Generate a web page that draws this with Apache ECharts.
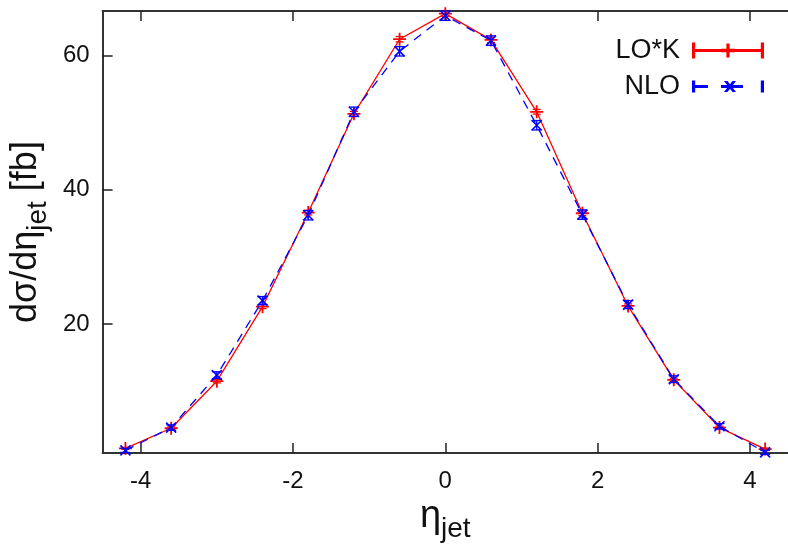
<!DOCTYPE html>
<html>
<head>
<meta charset="utf-8">
<script src="https://cdn.jsdelivr.net/npm/echarts@6.0.0/dist/echarts.min.js"></script>
<style>html,body{margin:0;padding:0;background:#fff}#c{width:788px;height:548px}</style>
</head>
<body>
<div id="c"></div>
<script>
const etaVals = [-4.2, -3.6, -3.0, -2.4, -1.8, -1.2, -0.6, 0, 0.6, 1.2, 1.8, 2.4, 3.0, 3.6, 4.2];
const lokVals = [1.5, 4.5, 11.5, 22.6, 36.6, 51.3, 62.4, 66.2, 62.3, 51.6, 36.5, 22.7, 11.7, 4.6, 1.4];
const lokErr  = [0.15, 0.2, 0.25, 0.3, 0.35, 0.35, 0.4, 0.4, 0.4, 0.35, 0.35, 0.3, 0.25, 0.2, 0.15];
const nloVals = [1.2, 4.6, 12.4, 23.5, 36.2, 51.6, 60.6, 65.9, 62.2, 49.6, 36.3, 22.9, 11.8, 4.8, 0.9];
const nloErr  = [0.3, 0.4, 0.5, 0.6, 0.7, 0.7, 0.7, 0.7, 0.7, 0.7, 0.7, 0.6, 0.5, 0.4, 0.3];
const xTicks = [-4, -2, 0, 2, 4];
const yTicks = [20, 40, 60];
const seriesNames = ['LO*K', 'NLO'];

const RED = '#ff0000', BLUE = '#0000ff';
const FONT = '"Liberation Sans", Arial, sans-serif';

function errBars(color, capHalf) {
  return function (params, api) {
    const x = api.value(0), y = api.value(1), e = api.value(2);
    const t = api.coord([x, y + e]), b = api.coord([x, y - e]);
    const st = { stroke: color, lineWidth: 1.3 };
    return { type: 'group', children: [
      { type: 'line', shape: { x1: t[0], y1: t[1], x2: b[0], y2: b[1] }, style: st },
      { type: 'line', shape: { x1: t[0] - capHalf, y1: t[1], x2: t[0] + capHalf, y2: t[1] }, style: st },
      { type: 'line', shape: { x1: b[0] - capHalf, y1: b[1], x2: b[0] + capHalf, y2: b[1] }, style: st }
    ]};
  };
}

const iconLok = 'path://M0,6.5H70V7.5H0Z M0,0H1.2V14H0Z M68.8,0H70V14H68.8Z M34.4,1H35.6V13H34.4Z M29,6.3H41V7.7H29Z';
const iconNlo = 'path://M0,2H1.2V12H0Z M0,6.5H14V7.5H0Z M29,6.5H49V7.5H29Z M68.8,2H70V12H68.8Z M33,2.5L34,2.5L41,11.5L40,11.5Z M40,2.5L41,2.5L34,11.5L33,11.5Z';

const axisLineStyle = { color: '#333', width: 2 };

const chart = echarts.init(document.getElementById('c'), null, { renderer: 'canvas' });
chart.setOption({
  backgroundColor: '#fff',
  animation: false,
  textStyle: { fontFamily: FONT },
  grid: { left: 101, top: 11, width: 690, height: 448, containLabel: false },
  legend: {
    orient: 'vertical', right: 19, top: 32, align: 'right',
    itemWidth: 70, itemHeight: 14, itemGap: 9, selectedMode: false,
    textStyle: { fontSize: 27, color: '#111', fontFamily: FONT, padding: [0, 8, 0, 0] },
    data: [
      { name: seriesNames[0], icon: iconLok, itemStyle: { color: RED } },
      { name: seriesNames[1], icon: iconNlo, itemStyle: { color: BLUE } }
    ]
  },
  xAxis: [{
    type: 'value', min: -4.5, max: 4.5, position: 'bottom',
    axisLine: { show: true, onZero: false, lineStyle: axisLineStyle },
    axisTick: { show: true, inside: true, length: 10, customValues: xTicks, lineStyle: { color: '#222', width: 1.5 } },
    axisLabel: { customValues: xTicks, fontSize: 24, color: '#111', margin: 16, fontFamily: FONT },
    splitLine: { show: false },
    name: '{m|η}{s|jet}', nameLocation: 'middle', nameGap: 43,
    nameTextStyle: { rich: {
      m: { fontSize: 38, fontFamily: FONT, color: '#111', lineHeight: 42, verticalAlign: 'top' },
      s: { fontSize: 28, fontFamily: FONT, color: '#111', lineHeight: 28, padding: [17, 0, 0, 0], verticalAlign: 'top' }
    } }
  }, {
    type: 'value', min: -4.5, max: 4.5, position: 'top',
    axisLine: { show: true, onZero: false, lineStyle: axisLineStyle },
    axisTick: { show: true, inside: true, length: 10, customValues: xTicks, lineStyle: { color: '#222', width: 1.5 } },
    axisLabel: { show: false },
    splitLine: { show: false }
  }],
  yAxis: [{
    type: 'value', min: 0.8, max: 66.6, position: 'left',
    axisLine: { show: true, onZero: false, lineStyle: axisLineStyle },
    axisTick: { show: true, inside: true, length: 10, customValues: yTicks, lineStyle: { color: '#222', width: 1.5 } },
    axisLabel: { customValues: yTicks, fontSize: 24, color: '#111', margin: 13, fontFamily: FONT },
    splitLine: { show: false },
    name: '{m|dσ/dη}{s|jet}{m| [fb]}', nameLocation: 'middle', nameGap: 48, nameRotate: 90,
    nameTextStyle: { rich: {
      m: { fontSize: 36, fontFamily: FONT, color: '#111', lineHeight: 40, verticalAlign: 'top' },
      s: { fontSize: 28, fontFamily: FONT, color: '#111', lineHeight: 28, padding: [16, 0, 0, 0], verticalAlign: 'top' }
    } }
  }],
  series: [
    {
      name: seriesNames[0], type: 'line', z: 2,
      data: etaVals.map((x, i) => [x, lokVals[i]]),
      symbol: 'path://M6,0L6,12M0,6L12,6', symbolSize: 13,
      itemStyle: { color: RED, borderColor: RED, borderWidth: 1.8 },
      lineStyle: { color: RED, width: 1.3 },
      emphasis: { disabled: true }
    },
    {
      name: 'LO*K err', type: 'custom', z: 3,
      data: etaVals.map((x, i) => [x, lokVals[i], lokErr[i]]),
      encode: { x: 0, y: 1 },
      renderItem: errBars(RED, 4)
    },
    {
      name: seriesNames[1], type: 'line', z: 4,
      data: etaVals.map((x, i) => [x, nloVals[i]]),
      symbol: 'path://M0,0L10,10M10,0L0,10', symbolSize: 10,
      itemStyle: { color: BLUE, borderColor: BLUE, borderWidth: 1.6 },
      lineStyle: { color: BLUE, width: 1.3, type: [9, 7] },
      emphasis: { disabled: true }
    },
    {
      name: 'NLO err', type: 'custom', z: 5,
      data: etaVals.map((x, i) => [x, nloVals[i], nloErr[i]]),
      encode: { x: 0, y: 1 },
      renderItem: errBars(BLUE, 5)
    }
  ]
});
</script>
</body>
</html>
